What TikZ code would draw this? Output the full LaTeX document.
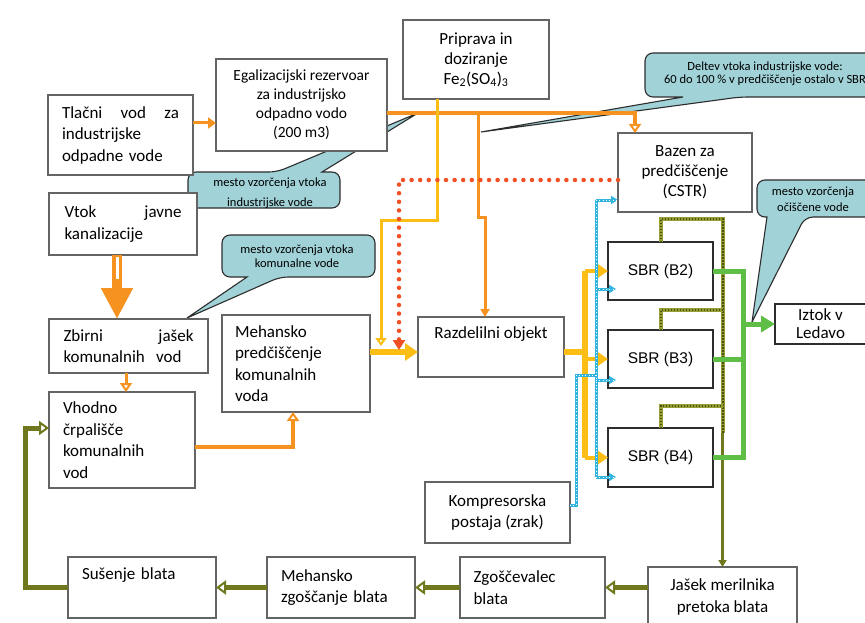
\documentclass[tikz,border=0pt]{standalone}
\usepackage{fontspec}
\setmainfont{Carlito}
\newfontfamily\arialf{Liberation Sans}
\usetikzlibrary{arrows.meta,calc}
\definecolor{cOr}{RGB}{245,146,32}
\definecolor{cYe}{RGB}{252,190,20}
\definecolor{cRd}{RGB}{240,80,35}
\definecolor{cBl}{RGB}{50,180,225}
\definecolor{cOl}{RGB}{112,120,30}
\definecolor{cOlL}{RGB}{150,160,50}
\definecolor{cOlD}{RGB}{75,80,20}
\definecolor{cGr}{RGB}{95,190,70}
\definecolor{cCal}{RGB}{160,210,215}
\definecolor{cBd}{RGB}{100,100,100}
\definecolor{cDk}{RGB}{45,45,45}
\begin{document}
\begin{tikzpicture}[x=1pt,y=-1pt,
  bx/.style={draw=cBd, line width=1.3pt, fill=white, anchor=north west, inner sep=0pt, outer sep=0pt, font=\fontsize{17}{21.5}\selectfont, align=center},
  sbr/.style={bx, draw=cDk, line width=2pt, font=\arialf\fontsize{15.5}{19}\selectfont},
  co/.style={fill=cCal, draw=cDk, line width=1.1pt},
  cot/.style={font=\fontsize{12.5}{14}\selectfont, align=center, inner sep=0pt},
  orT/.style={draw=cOr, line width=4pt},
  orN/.style={draw=cOr, line width=3pt},
  opentip/.style={-{Triangle[open, width=12pt, length=9pt, line width=2pt, fill=white]}},
  filltip/.style={-{Triangle[width=11pt, length=8pt]}},
  yeN/.style={draw=cYe, line width=3pt},
  yeT/.style={draw=cYe, line width=5.5pt},
  rdD/.style={draw=cRd, line width=4.5pt, line cap=round, dash pattern=on 0pt off 8.6pt},
  blD/.style={draw=cBl, line width=3pt, postaction={draw=white, -, line width=0.8pt, dash pattern=on 0.8pt off 2.5pt}},
  olD/.style={draw=cOlL, line width=4pt, postaction={draw=cOlD, -, line width=2pt, dash pattern=on 1.5pt off 1.5pt}},
  olS/.style={draw=cOl, line width=2.2pt},
  olT/.style={draw=cOl, line width=5pt},
  grT/.style={draw=cGr, line width=5pt, line join=miter},
]
\useasboundingbox (0,0) rectangle (865,623);
\fill[white] (0,0) rectangle (865,623);

% callouts (behind everything)
\path[co] (260,208) [rounded corners=8pt] -| (188,172) -- (277,172) [sharp corners] -- (418,113) -- (322,172) [rounded corners=8pt] -- (340,172) -- (340,208) -- cycle;
\path[co] (300,235) [rounded corners=8pt] -- (375,235) -- (375,277) -- (280,277) [sharp corners] -- (187,318) -- (247,277) [rounded corners=8pt] -- (222,277) -- (222,235) -- cycle;
\path[co] (760,53) [rounded corners=8pt] -- (885,53) -- (885,97) -- (740,97) [sharp corners] -- (481,132) -- (683,97) [rounded corners=8pt] -- (645,97) -- (645,53) -- cycle;
\path[co] (820,180) [rounded corners=8pt] -- (885,180) -- (885,217) -- (805,217) [sharp corners] -- (752,322) -- (767,217) [rounded corners=8pt] -- (757,217) -- (757,180) -- cycle;

\node[cot] (tind) at (270,193) {mesto vzorčenja vtoka\\[6pt]industrijske vode};
\node[cot] (tkom) at (297,256) {mesto vzorčenja vtoka\\komunalne vode};
\node[cot, font=\fontsize{12.5}{13}\selectfont] (tdel) at (765,74) {Deltev vtoka industrijske vode:\\60 do 100 \% v predčiščenje ostalo v SBR};
\node[cot, font=\fontsize{12.5}{16}\selectfont] (toc) at (813,199) {mesto vzorčenja\\očiščene vode};

% boxes
\node[bx, minimum width=145pt, minimum height=80pt, text width=117pt, align=left] (tlacni) at (48,95) {Tlačni\hfill vod\hfill za\\industrijske\\odpadne vode};
\node[bx, minimum width=171pt, minimum height=92pt, font=\fontsize{15.5}{19}\selectfont] (ega) at (216,59) {Egalizacijski rezervoar\\za industrijsko\\odpadno vodo\\(200 m3)};
\node[bx, minimum width=146pt, minimum height=79pt, font=\fontsize{17}{20}\selectfont] (prip) at (403,20) {Priprava in\\doziranje\\Fe\textsubscript{2}(SO\textsubscript{4})\textsubscript{3}};
\node[bx, minimum width=134pt, minimum height=79pt, font=\fontsize{17}{20}\selectfont] (bazen) at (618,133) {Bazen za\\predčiščenje\\(CSTR)};
\node[bx, minimum width=148pt, minimum height=62pt, text width=117pt, align=left] (vtok) at (49,193) {Vtok\hfill javne\\kanalizacije};
\node[bx, minimum width=159pt, minimum height=54pt, text width=130pt, align=left] (zbirni) at (49,319) {Zbirni\hfill jašek\\komunalnih~ vod};
\node[bx, minimum width=146pt, minimum height=96pt, text width=118pt, align=left] (vhodno) at (49,392) {Vhodno\\črpališče\\komunalnih\\vod};
\node[bx, minimum width=148pt, minimum height=97pt, text width=122pt, align=left] (mehp) at (222,315) {Mehansko\\predčiščenje\\komunalnih\\voda};
\node[bx, minimum width=146pt, minimum height=60pt] (razd) at (418,317) {Razdelilni objekt\\\strut};
\node[sbr, minimum width=105pt, minimum height=58pt] (b2) at (608,242) {SBR (B2)};
\node[sbr, minimum width=105pt, minimum height=58pt] (b3) at (608,330) {SBR (B3)};
\node[sbr, minimum width=105pt, minimum height=59pt] (b4) at (608,428) {SBR (B4)};
\node[bx, draw=cDk, line width=2pt, minimum width=91pt, minimum height=40pt, font=\fontsize{17}{18}\selectfont] (iztok) at (775,304) {Iztok v\\Ledavo};
\node[bx, minimum width=145pt, minimum height=61pt] (komp) at (425,482) {Kompresorska\\postaja (zrak)};
\node[bx, minimum width=149pt, minimum height=60pt] (jasek) at (648,567) {Jašek merilnika\\pretoka blata};
\node[bx, minimum width=145pt, minimum height=61pt, text width=118pt, align=left] (zgos) at (460,557) {Zgoščevalec\\blata};
\node[bx, minimum width=148pt, minimum height=61pt, text width=120pt, align=left] (mehz) at (267,557) {Mehansko\\zgoščanje blata};
\node[bx, minimum width=148pt, minimum height=61pt, text width=120pt, align=left] (sus) at (68,557) {Sušenje blata\\\strut};

% helper coordinates
\coordinate (tl1) at ([yshift=12pt]tlacni.east);
\coordinate (eg1) at ([yshift=-8pt]ega.east);
\coordinate (bz1) at ([xshift=-50pt]bazen.north);
\coordinate (sp1) at (478,113);
\coordinate (pr1) at ([xshift=-39pt]prip.south);
\coordinate (bzr) at ([yshift=-7.5pt]bazen.west);
\coordinate (bzb) at ([yshift=-27.5pt]bazen.west);
\coordinate (mp2) at ([yshift=11.5pt]mehp.east);
\coordinate (rin) at ([yshift=-5pt]razd.west);
\coordinate (rout) at ([yshift=-5pt]razd.east);
\coordinate (ycol) at (585,0);
\coordinate (bcol) at (596,0);
\coordinate (gcol) at (743,0);
\coordinate (kp1) at ([yshift=7.5pt]komp.east);
\coordinate (kj) at (576,375);
\coordinate (o2) at (722.5,219);
\coordinate (o3) at (722.5,310);
\coordinate (o4) at (722.5,406);
\coordinate (o5) at (722.5,433);
\coordinate (zb1) at ([xshift=-2.5pt]zbirni.south);
\coordinate (vh1) at ([yshift=-7pt]vhodno.east);
\coordinate (mp1) at ([xshift=-3pt]mehp.south);
\coordinate (vin) at ([yshift=12pt]vhodno.west);
\coordinate (lc) at (25,0);
\coordinate (vt1) at ([xshift=-6pt]vtok.south);

% orange connectors
\draw[orN, filltip] (tl1) -- (ega.west |- tl1);
\draw[orT, opentip] (eg1) -| (bz1);
\draw[orN, -{Triangle[width=9pt, length=8pt]}] (sp1) |- (485,217) -- ([xshift=-6pt]razd.north);
\draw[cOr, line width=10pt, -{Triangle[width=30pt, length=31pt]}] (vt1) -- (vt1 |- zbirni.north);
\draw[white, line width=3pt] ([yshift=-2pt]vt1) -- ++(0,22);
\draw[orN, opentip] (zb1) -- (zb1 |- vhodno.north);
\draw[orT, opentip] (vh1) -| (mp1);

% yellow
\draw[yeN, -{Triangle[open, width=11pt, length=8pt, line width=2pt, fill=white]}] (pr1) |- (381,220) -- (381,346);
\draw[yeT, -{Triangle[width=17pt, length=13pt]}] (mp2) -- (rin);
\draw[yeT] (rout) -- (ycol |- rout);
\draw[yeT] (ycol |- b2.west) -- (ycol |- b4.west);
\foreach \b in {b2,b3,b4}{\draw[draw=cYe, line width=4pt, -{Triangle[width=13pt, length=10pt]}] (ycol |- \b.west) -- (\b.west);}

% red dotted
\draw[rdD, -{Triangle[width=12pt, length=10pt]}] (bzr) -| (399,350);

% light blue dotted
\draw[blD] (bcol |- bzb) -- (bcol |- 0,477);
\draw[blD, -{Triangle[width=8pt, length=7pt]}] (bcol |- bzb) -- (bzb);
\draw[blD, -{Triangle[width=8pt, length=7pt]}] (bcol |- 0,289) -- ([xshift=8pt, yshift=-18pt]b2.west);
\draw[blD, -{Triangle[width=8pt, length=7pt]}] (bcol |- 0,380) -- ([xshift=8pt, yshift=-21pt]b3.west);
\draw[blD, -{Triangle[width=8pt, length=7pt]}] (bcol |- 0,477) -- ([xshift=8pt, yshift=-19.5pt]b4.west);
\draw[blD] (kp1) -| (kj) -- (bcol |- kj);

% olive sludge
\draw[olD] (b2.north) |- (o2) -- (o5);
\draw[olD] (b3.north) |- (o3);
\draw[olD] (b4.north) |- (o4);
\draw[olS, -{Triangle[width=8pt, length=7pt]}] (o5) -- (jasek.north);

% green effluent
\draw[grT] (b2.east) -- (gcol |- b2.east) -- (gcol |- b4.east) -- (b4.east);
\draw[grT] (b3.east) -- (gcol |- b3.east);
\draw[grT, -{Triangle[width=16pt, length=14pt]}] (gcol |- iztok.west) -- (iztok.west);

% olive sludge line (bottom)
\draw[olT, -{Triangle[open, width=14pt, length=10pt, line width=2pt, fill=white]}] (zgos.east -| jasek.west) -- (zgos.east);
\draw[olT, -{Triangle[open, width=14pt, length=10pt, line width=2pt, fill=white]}] (zgos.west) -- (mehz.east);
\draw[olT, -{Triangle[open, width=14pt, length=10pt, line width=2pt, fill=white]}] (mehz.west) -- (sus.east);
\draw[olT, line join=miter, -{Triangle[open, width=14pt, length=10pt, line width=2pt, fill=white]}] (sus.west) -| (lc |- vin) -- (vin);
\end{tikzpicture}
\end{document}
